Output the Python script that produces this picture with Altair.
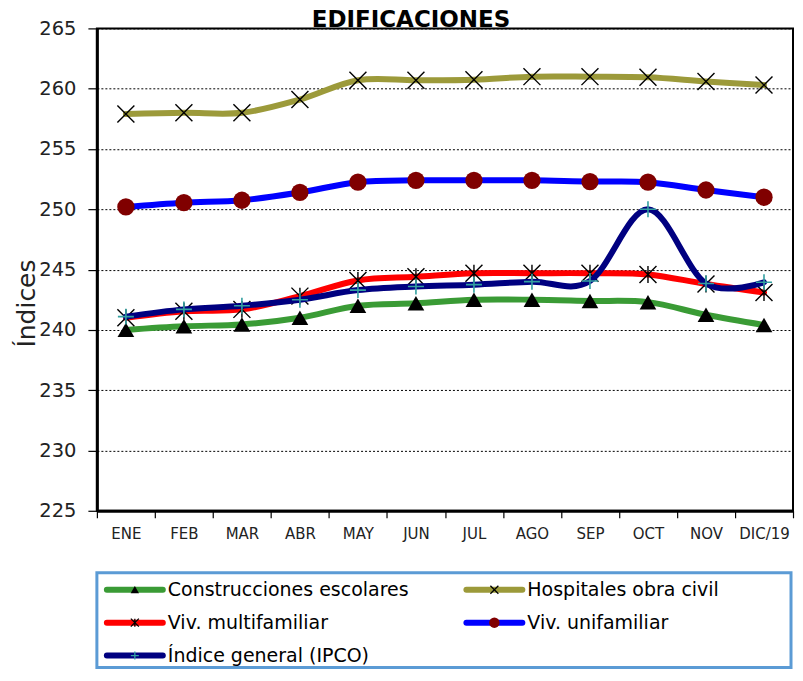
import altair as alt
import pandas as pd

meses = ["ENE", "FEB", "MAR", "ABR", "MAY", "JUN", "JUL", "AGO", "SEP", "OCT", "NOV", "DIC/19"]

escolares = [240.0, 240.3, 240.45, 241.0, 242.0, 242.2, 242.5, 242.5, 242.4, 242.3, 241.25, 240.4]
hospitales = [257.9, 258.0, 258.0, 259.1, 260.7, 260.7, 260.75, 261.0, 261.0, 260.95, 260.6, 260.3]
multifamiliar = [241.0, 241.55, 241.7, 242.8, 244.1, 244.4, 244.7, 244.7, 244.7, 244.6, 243.8, 243.1]
unifamiliar = [250.2, 250.55, 250.75, 251.4, 252.25, 252.4, 252.4, 252.4, 252.3, 252.25, 251.6, 251.0]
ipco = [241.1, 241.7, 242.0, 242.5, 243.3, 243.6, 243.75, 244.0, 244.05, 250.0, 243.85, 243.95]

nombres = ["Construcciones escolares", "Hospitales obra civil", "Viv. multifamiliar",
           "Viv. unifamiliar", "Índice general (IPCO)"]
valores = [escolares, hospitales, multifamiliar, unifamiliar, ipco]

y_ticks = [225, 230, 235, 240, 245, 250, 255, 260, 265]

FONT = "DejaVu Sans"
X_PATH = "M-1,-1L1,1M-1,1L1,-1"
AST_PATH = "M-1,-1L1,1M-1,1L1,-1M0,-1L0,1"
PLUS_PATH = "M-1,0L1,0M0,-1L0,1"

estilos = [
    dict(line="#3a9b35", shape="triangle-up", mcolor="black", filled=True, size=280, lsize=70, sw=0),
    dict(line="#9c9a3a", shape=X_PATH, mcolor="black", filled=False, size=289, lsize=64, sw=1.4),
    dict(line="#ff0000", shape=AST_PATH, mcolor="black", filled=False, size=289, lsize=64, sw=1.4),
    dict(line="#0000ff", shape="circle", mcolor="#800000", filled=True, size=300, lsize=110, sw=0),
    dict(line="#000080", shape=PLUS_PATH, mcolor="#33a0a0", filled=False, size=256, lsize=64, sw=1.6),
]

rows = []
for nombre, serie in zip(nombres, valores):
    for m, v in zip(meses, serie):
        rows.append({"serie": nombre, "mes": m, "valor": v})
df = pd.DataFrame(rows)

x_enc = alt.X(
    "mes:N", sort=meses, bandPosition=0.5,
    scale=alt.Scale(type="band", paddingInner=0, paddingOuter=0),
    axis=alt.Axis(title=None, labelAngle=0, labelFontSize=15, labelFont=FONT, labelColor="#222",
                  tickBand="extent", tickSize=7, tickColor="black", tickWidth=1.2,
                  domainColor="black", domainWidth=3, labelPadding=9, grid=False),
)
y_enc = alt.Y(
    "valor:Q",
    scale=alt.Scale(domain=[225, 265], nice=False, zero=False),
    axis=alt.Axis(values=y_ticks, title="Índices", titleFontSize=25, titleFont=FONT,
                  titleFontWeight="normal", titleColor="#222", titleAngle=-90,
                  titleX=-62, titleY=275, titleAlign="center", titleBaseline="alphabetic",
                  labelFontSize=19.5, labelFont=FONT, labelColor="#222", labelPadding=12,
                  tickSize=9, tickColor="black", tickWidth=1.2,
                  domainColor="black", domainWidth=3,
                  grid=True, gridColor="black", gridDash=[2, 2], gridWidth=1),
)

base = alt.Chart(df)
capas = []
for nombre, est in zip(nombres, estilos):
    sub = base.transform_filter(alt.datum.serie == nombre)
    capas.append(sub.mark_line(interpolate="cardinal", strokeWidth=6, color=est["line"],
                               strokeCap="round", strokeJoin="round").encode(x=x_enc, y=y_enc))
    if est["filled"]:
        pm = sub.mark_point(shape=est["shape"], filled=True, color=est["mcolor"], size=est["size"],
                            opacity=1)
    else:
        pm = sub.mark_point(shape=est["shape"], filled=False, stroke=est["mcolor"], size=est["size"],
                            strokeWidth=est["sw"], opacity=1)
    capas.append(pm.encode(x=x_enc, y=y_enc))

main = alt.layer(*capas).properties(
    width=697, height=483,
    title=alt.TitleParams("EDIFICACIONES", fontSize=23, fontWeight="bold", font=FONT,
                          color="black", anchor="middle", dx=-34, offset=-14),
    view=alt.ViewBackground(stroke="black", strokeWidth=2),
)

# Legend panel
leg_rows = []
for i, nombre in enumerate(nombres):
    leg_rows.append({"serie": nombre, "col": i % 2, "fila": i // 2})
leg_df = pd.DataFrame(leg_rows)

lx = alt.X("col:Q", scale=alt.Scale(domain=[0, 1], range=[38, 398]), axis=None)
ly = alt.Y("fila:Q", scale=alt.Scale(domain=[0, 2], range=[17, 83]), axis=None)

lbase = alt.Chart(leg_df)
lcapas = []
for nombre, est in zip(nombres, estilos):
    sub = lbase.transform_filter(alt.datum.serie == nombre)
    lcapas.append(sub.mark_point(shape="M-1,0L1,0", filled=False, stroke=est["line"], strokeWidth=6,
                                 size=3136, strokeCap="round", opacity=1).encode(x=lx, y=ly))
    if est["filled"]:
        pm = sub.mark_point(shape=est["shape"], filled=True, color=est["mcolor"], size=est["lsize"],
                            opacity=1)
    else:
        pm = sub.mark_point(shape=est["shape"], filled=False, stroke=est["mcolor"], size=est["lsize"],
                            strokeWidth=1.3, opacity=1)
    lcapas.append(pm.encode(x=lx, y=ly))
lcapas.append(lbase.mark_text(align="left", baseline="middle", dx=33, fontSize=19, font=FONT,
                              color="black").encode(x=lx, y=ly, text="serie:N"))

legend = alt.layer(*lcapas).properties(
    width=695, height=95,
    view=alt.ViewBackground(stroke="#5b9bd5", strokeWidth=3),
)

chart = alt.vconcat(main, legend, spacing=28).properties(
    padding={"left": 6, "top": 0, "right": 0, "bottom": 0}, background="white"
)

chart.save("out.html", embed_options={"renderer": "svg", "actions": False})
